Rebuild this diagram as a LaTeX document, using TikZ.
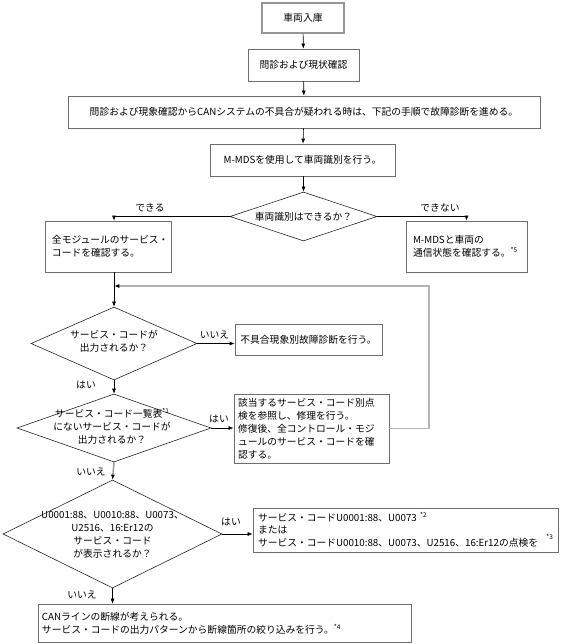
\documentclass[tikz,border=0pt]{standalone}
\usepackage{fontspec}
\setmainfont{Noto Sans CJK JP}
\usetikzlibrary{shapes.geometric,arrows.meta}
\newcommand{\snote}[1]{\raisebox{4bp}{\fontsize{6.5}{6.5}\selectfont #1}}
\begin{document}
\begin{tikzpicture}[x=1bp,y=-1bp,
  every node/.style={font=\fontsize{9.8}{13}\selectfont},
  box/.style={draw={rgb,255:red,110;green,110;blue,110}, line width=0.8bp, rectangle, inner sep=0pt, align=center},
  lbox/.style={draw={rgb,255:red,110;green,110;blue,110}, line width=0.8bp, rectangle, inner xsep=5bp, inner ysep=0pt, align=left},
  topbox/.style={draw={rgb,255:red,150;green,150;blue,150}, line width=1.6bp, rectangle, inner sep=0pt, align=center},
  dia/.style={draw=black!85, line width=0.6bp, diamond, inner sep=0pt},
  dtext/.style={align=center, inner sep=0pt},
  lbl/.style={inner sep=0pt},
  conn/.style={draw=black, line width=0.6bp, -{Latex[length=5bp,width=4bp]}},
  gconn/.style={draw={rgb,255:red,160;green,160;blue,160}, line width=1.6bp, -{Latex[length=5bp,width=4bp,color=black]}},
  loopl/.style={draw={rgb,255:red,180;green,180;blue,180}, line width=1.6bp, -{Latex[length=5bp,width=4bp,color=black]}}
]
\useasboundingbox (0,0) rectangle (561,644);

% boxes
\node[topbox, minimum width=82bp, minimum height=30bp] (b1) at (303,18) {車両入庫};
\node[box, minimum width=111bp, minimum height=32bp] (b2) at (303.5,65) {問診および現状確認};
\node[box, minimum width=472bp, minimum height=32bp] (b3) at (304,112) {問診および現象確認からCANシステムの不具合が疑われる時は、下記の手順で故障診断を進める。};
\node[box, minimum width=185bp, minimum height=32bp] (b4) at (302.5,160) {M-MDSを使用して車両識別を行う。};

\node[dia, minimum width=147bp, minimum height=49bp] (d1) at (303.5,216.5) {};
\node[dtext] (d1t) at (303.5,216.5) {車両識別はできるか？};

\node[lbox, inner xsep=7bp, text width=112bp, minimum height=51bp] (b5) at (108,246.5) {全モジュールのサービス・\\コードを確認する。};
\node[lbox, inner xsep=7bp, text width=107bp, minimum height=51bp] (b6) at (466.5,246.5) {M-MDSと車両の\\通信状態を確認する。\snote{*5}};

\node[dia, minimum width=166bp, minimum height=73bp] (d2) at (114,343.5) {};
\node[dtext] (d2t) at (114,341.5) {サービス・コードが\\出力されるか？};
\node[box, minimum width=147bp, minimum height=31bp] (b7) at (308.5,339.5) {不具合現象別故障診断を行う。};

\node[dia, minimum width=194bp, minimum height=68bp] (d3) at (114,428) {};
\node[dtext] (d3t) at (112,426.5) {サービス・コード一覧表\snote{*1}\\にないサービス・コードが\\出力されるか？};
\node[lbox, inner xsep=4bp, text width=147bp, minimum height=69bp] (b8) at (311.5,428.5) {該当するサービス・コード別点\\検を参照し、修理を行う。\\修復後、全コントロール・モジ\\ュールのサービス・コードを確\\認する。};

\node[dia, minimum width=219bp, minimum height=108bp] (d4) at (112.5,534) {};
\node[dtext] (d4t) at (112.5,535) {U0001:88、U0010:88、U0073、\\U2516、16:Er12の\\サービス・コード\\が表示されるか？};
\node[lbox, inner xsep=5bp, text width=295bp, minimum height=44bp, font=\fontsize{9.8}{12}\selectfont] (b9) at (405.5,530) {サービス・コードU0001:88、U0073 \snote{*2}\\または\\サービス・コードU0010:88、U0073、U2516、16:Er12の点検を\hfill\raisebox{3bp}{\snote{*3}}\hspace*{3bp}};
\node[lbox, inner xsep=4bp, text width=365bp, minimum height=38bp] (b10) at (224.5,623) {CANラインの断線が考えられる。\\サービス・コードの出力パターンから断線箇所の絞り込みを行う。\snote{*4}};

% labels
\node[lbl] (l1) at (150,208) {できる};
\node[lbl] (l2) at (440,208) {できない};
\node[lbl] (l3) at (214.5,335) {いいえ};
\node[lbl] (l4) at (86,385) {はい};
\node[lbl] (l5) at (219,419) {はい};
\node[lbl] (l6) at (91,472) {いいえ};
\node[lbl] (l7) at (231,522) {はい};
\node[lbl] (l8) at (82,595) {いいえ};

% helper coordinate
\coordinate (lp) at (429,286);

% connectors
\draw[conn] (b1) -- (b2);
\draw[conn] (b2) -- (b3);
\draw[conn] (b3) -- (b4);
\draw[conn] (b4.south -| d1.north) -- (d1.north);
\draw[conn] (d1.west) -| (b5.north -| d2.north);
\draw[conn] (d1.east) -| (b6.north);
\draw[draw=black, line width=0.6bp] (b5.south -| d2.north) -- (lp -| d2.north);
\draw[conn] (lp -| d2.north) -- (d2.north);
\draw[loopl] (b8.east) -- (b8.east -| lp) -- (lp) -- ([xshift=0.3bp]lp -| d2.north);
\draw[conn] (d2.east) -- (d2.east -| b7.west);
\draw[conn] (d2.south) -- (d3.north);
\draw[conn] (d3.east) -- (d3.east -| b8.west);
\draw[gconn] (d3.south) -- (d4.north);
\draw[conn] (d4.east) -- (d4.east -| b9.west);
\draw[conn] (d4.south) -- (d4.south |- b10.north);
\end{tikzpicture}
\end{document}
